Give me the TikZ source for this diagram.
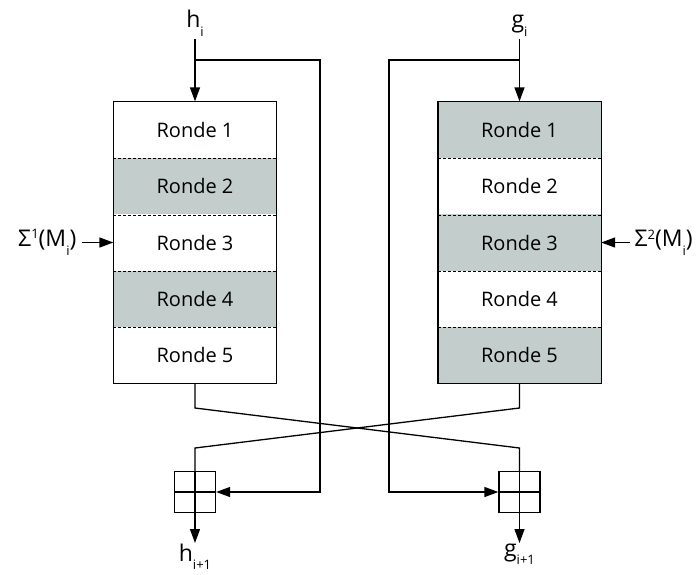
\documentclass[tikz,border=0pt]{standalone}
\usepackage{fontspec}
\setmainfont{Open Sans}
\usetikzlibrary{arrows.meta}
\definecolor{rowgray}{RGB}{195,205,203}
\newcommand{\lowsub}[1]{\raisebox{-0.38em}{\fontsize{13}{13}\selectfont #1}}
\newcommand{\highsup}[1]{\raisebox{0.33em}{\fontsize{13}{13}\selectfont #1}}
\begin{document}
\begin{tikzpicture}[x=1pt,y=-1pt, line width=1.3pt,
  row/.style={minimum width=162pt, minimum height=56.2pt, inner sep=0pt, font=\fontsize{20}{23}\selectfont},
  shaded/.style={row, fill=rowgray},
  plain/.style={row},
  arr/.style={-{Triangle[length=14pt,width=10pt]}},
  sep/.style={line width=0.9pt, dash pattern=on 3pt off 2pt},
  lbl/.style={font=\fontsize{23}{26}\selectfont, inner sep=2pt},
  adder/.style={draw, minimum size=41pt, inner sep=0pt,
    path picture={\draw (path picture bounding box.north) -- (path picture bounding box.south)
      (path picture bounding box.west) -- (path picture bounding box.east);}}
]
\useasboundingbox (0,0) rectangle (697,574);

% left column
\node[plain]  (L1) at (195,130.1) {Ronde 1};
\node[shaded] (L2) at (195,186.3) {Ronde 2};
\node[plain]  (L3) at (195,242.5) {Ronde 3};
\node[shaded] (L4) at (195,298.7) {Ronde 4};
\node[plain]  (L5) at (195,354.9) {Ronde 5};
% right column
\node[shaded] (R1) at (519.5,130.1) {Ronde 1};
\node[plain]  (R2) at (519.5,186.3) {Ronde 2};
\node[shaded] (R3) at (519.5,242.5) {Ronde 3};
\node[plain]  (R4) at (519.5,298.7) {Ronde 4};
\node[shaded] (R5) at (519.5,354.9) {Ronde 5};

\foreach \n in {L1,L2,L3,L4,R1,R2,R3,R4}
  \draw[sep] (\n.south west) -- (\n.south east);
\draw (L1.north west) rectangle (L5.south east);
\draw (R1.north west) rectangle (R5.south east);

% labels
\node[lbl, anchor=south, inner sep=2pt] (hi) at (195,39) {h\lowsub{i}};
\node[lbl, anchor=south, inner sep=2pt] (gi) at (519.5,39) {g\lowsub{i}};
\node[lbl, anchor=east, inner sep=5pt] (s1) at (82,242.5) {Σ\highsup{1}(M\lowsub{i})};
\node[lbl, anchor=west, inner sep=4pt] (s2) at (630,242.5) {Σ\highsup{2}(M\lowsub{i})};

% adders
\node[adder] (aH) at (195,492) {};
\node[adder] (aG) at (519.5,492) {};

% coordinates
\coordinate (jh) at (195,60);
\coordinate (fh1) at (320,60);
\coordinate (fh2) at (320,492);
\coordinate (jg) at (519.5,60);
\coordinate (fg1) at (389,60);
\coordinate (fg2) at (389,492);
\coordinate (cl1) at (195,408);
\coordinate (cl2) at (519.5,448);
\coordinate (cr1) at (519.5,408);
\coordinate (cr2) at (195,448);

% inputs
\draw[arr] (hi.south) -- (L1.north);
\draw[arr] (gi.south) -- (R1.north);
\draw[arr] (jh) -- (fh1) -- (fh2) -- (aH.east);
\draw[arr] (jg) -- (fg1) -- (fg2) -- (aG.west);
\draw[arr] (s1.east) -- (L3.west);
\draw[arr] (s2.west) -- (R3.east);

% cross
\draw (L5.south) -- (cl1) -- (cl2) -- (aG.north);
\draw (R5.south) -- (cr1) -- (cr2) -- (aH.north);

% outputs
\node[lbl, anchor=north, inner sep=0pt] (ho) at (195,543) {h\lowsub{i+1}};
\node[lbl, anchor=north, inner sep=0pt] (go) at (519.5,543) {g\lowsub{i+1}};
\draw[arr] (aH.south) -- (ho.north);
\draw[arr] (aG.south) -- (go.north);
\end{tikzpicture}
\end{document}
